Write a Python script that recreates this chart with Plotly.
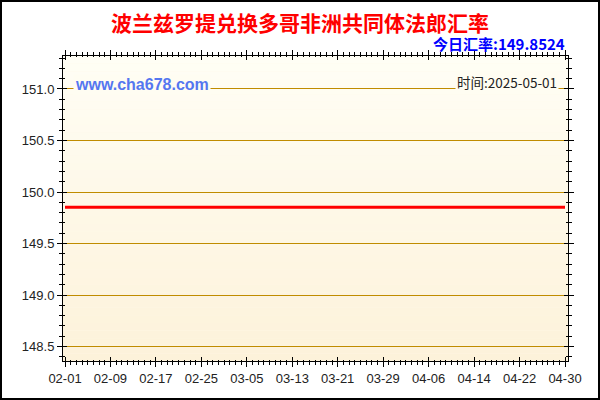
import pandas as pd
import plotly.graph_objs as go

# datos: tipo de cambio diario PLN -> XOF
dates = pd.date_range('2025-02-01', '2025-04-30', freq='D').strftime('%Y-%m-%d').tolist()
rates = [
    149.8524, 149.8524, 149.8524, 149.8524, 149.8524, 149.8524, 149.8524, 149.8524, 149.8524, 149.8524,
    149.8524, 149.8524, 149.8524, 149.8524, 149.8524, 149.8524, 149.8524, 149.8524, 149.8524, 149.8524,
    149.8524, 149.8524, 149.8524, 149.8524, 149.8524, 149.8524, 149.8524, 149.8524, 149.8524, 149.8524,
    149.8524, 149.8524, 149.8524, 149.8524, 149.8524, 149.8524, 149.8524, 149.8524, 149.8524, 149.8524,
    149.8524, 149.8524, 149.8524, 149.8524, 149.8524, 149.8524, 149.8524, 149.8524, 149.8524, 149.8524,
    149.8524, 149.8524, 149.8524, 149.8524, 149.8524, 149.8524, 149.8524, 149.8524, 149.8524, 149.8524,
    149.8524, 149.8524, 149.8524, 149.8524, 149.8524, 149.8524, 149.8524, 149.8524, 149.8524, 149.8524,
    149.8524, 149.8524, 149.8524, 149.8524, 149.8524, 149.8524, 149.8524, 149.8524, 149.8524, 149.8524,
    149.8524, 149.8524, 149.8524, 149.8524, 149.8524, 149.8524, 149.8524, 149.8524, 149.8524,
]
title = '波兰兹罗提兑换多哥非洲共同体法郎汇率'
today_rate = '149.8524'
today_date = '2025-05-01'
site = 'www.cha678.com'

grid_color = '#c08c00'
x_range = ['2025-01-31 15:30', '2025-04-30 12:40']
y_range = [148.36, 151.32]

fig = go.Figure()

fig.add_trace(go.Scatter(
    x=dates,
    y=rates,
    mode='lines',
    line=dict(color='#ff0000', width=3),
    showlegend=False,
    hoverinfo='skip'
))

# traza invisible para los ejes superpuestos (marcas hacia dentro)
fig.add_trace(go.Scatter(
    x=dates,
    y=rates,
    mode='lines',
    line=dict(width=0),
    opacity=0,
    xaxis='x2',
    yaxis='y2',
    showlegend=False,
    hoverinfo='skip'
))

# fondo degradado (bandas por debajo de la rejilla)
n_bands = 40
top_rgb = (255, 254, 245)
bot_rgb = (253, 242, 218)
shapes = []
for i in range(n_bands):
    t = i / (n_bands - 1)
    r = round(bot_rgb[0] + (top_rgb[0] - bot_rgb[0]) * t)
    g = round(bot_rgb[1] + (top_rgb[1] - bot_rgb[1]) * t)
    b = round(bot_rgb[2] + (top_rgb[2] - bot_rgb[2]) * t)
    shapes.append(dict(
        type='rect', xref='x domain', yref='y domain',
        x0=0, x1=1, y0=i / n_bands, y1=(i + 1) / n_bands,
        fillcolor=f'rgb({r},{g},{b})', line=dict(width=0), layer='below'
    ))

# marco negro de la imagen
shapes.append(dict(
    type='rect', xref='paper', yref='paper',
    x0=-62 / 505, x1=536 / 505, y0=-38 / 305, y1=360 / 305,
    line=dict(color='black', width=2), fillcolor='rgba(0,0,0,0)', layer='above'
))

fig.update_layout(
    width=600,
    height=400,
    margin=dict(l=63, r=32, t=56, b=39),
    paper_bgcolor='white',
    plot_bgcolor='#fef8e8',
    font=dict(family='Liberation Sans, Arial', size=13, color='#222222'),
    shapes=shapes,
    showlegend=False,
    xaxis2=dict(
        type='date', overlaying='x', range=x_range, tick0='2025-02-01', dtick=8 * 86400000,
        ticks='inside', ticklen=4, tickcolor='black', showticklabels=False,
        mirror='ticks', showline=True, linecolor='black', showgrid=False, zeroline=False,
        minor=dict(dtick=86400000, ticks='inside', ticklen=1, tickcolor='black', showgrid=False),
    ),
    yaxis2=dict(
        overlaying='y', range=y_range, tick0=148.5, dtick=0.5,
        ticks='inside', ticklen=4, tickcolor='black', showticklabels=False,
        mirror='ticks', showline=True, linecolor='black', showgrid=False, zeroline=False,
        minor=dict(dtick=0.1, ticks='inside', ticklen=2, tickcolor='black', showgrid=False),
    ),
)

fig.layout.xaxis.update(
    type='date',
    range=x_range,
    tick0='2025-02-01',
    dtick=8 * 86400000,
    tickformat='%m-%d',
    ticks='outside',
    ticklen=5,
    tickcolor='black',
    showline=True,
    linecolor='black',
    linewidth=1,
    mirror='ticks',
    showgrid=False,
    zeroline=False,
    minor=dict(dtick=86400000, ticks='outside', ticklen=3, tickcolor='black', showgrid=False),
    tickfont=dict(size=13, color='#222222'),
)

fig.layout.yaxis.update(
    range=y_range,
    tick0=148.5,
    dtick=0.5,
    tickformat='.1f',
    ticks='outside',
    ticklen=5,
    tickcolor='black',
    showline=True,
    linecolor='black',
    linewidth=1,
    mirror='ticks',
    showgrid=True,
    gridcolor=grid_color,
    gridwidth=1,
    zeroline=False,
    minor=dict(dtick=0.1, ticks='outside', ticklen=3, tickcolor='black', showgrid=False),
    tickfont=dict(size=13, color='#222222'),
)

# título (x en coordenadas del área de dibujo)
fig.add_annotation(
    x=(300 - 63) / 505, y=1, xref='paper', yref='paper',
    xanchor='center', yanchor='middle', yshift=56 - 22,
    text=f'<b>{title}</b>', showarrow=False,
    font=dict(family='Noto Sans CJK SC', size=21, color='#ff0000')
)

fig.add_annotation(
    x=1, y=1, xref='paper', yref='paper',
    xanchor='right', yanchor='middle', xshift=-1, yshift=56 - 43,
    text=f'<b>今日汇率:{today_rate}</b>', showarrow=False,
    font=dict(family='Noto Sans CJK SC, Liberation Sans', size=15, color='#0000ff')
)

fig.add_annotation(
    x=0, y=1, xref='paper', yref='paper',
    xanchor='left', yanchor='middle', xshift=10, yshift=-(84 - 56),
    text=f'<b>{site}</b>', showarrow=False, bgcolor='#fffdf2',
    font=dict(family='Liberation Sans, Arial', size=16, color='#5577f0')
)

fig.add_annotation(
    x=1, y=1, xref='paper', yref='paper',
    xanchor='right', yanchor='middle', xshift=-9, yshift=-(82 - 56),
    text=f'时间:{today_date}', showarrow=False, bgcolor='#fffdf2',
    font=dict(family='Noto Sans CJK SC, Liberation Sans', size=13.5, color='#222222')
)

# sin margen del body para que la figura ocupe la ventana
fig.write_html('out.html', config={'displayModeBar': False},
               post_script="document.body.style.margin='0';")
